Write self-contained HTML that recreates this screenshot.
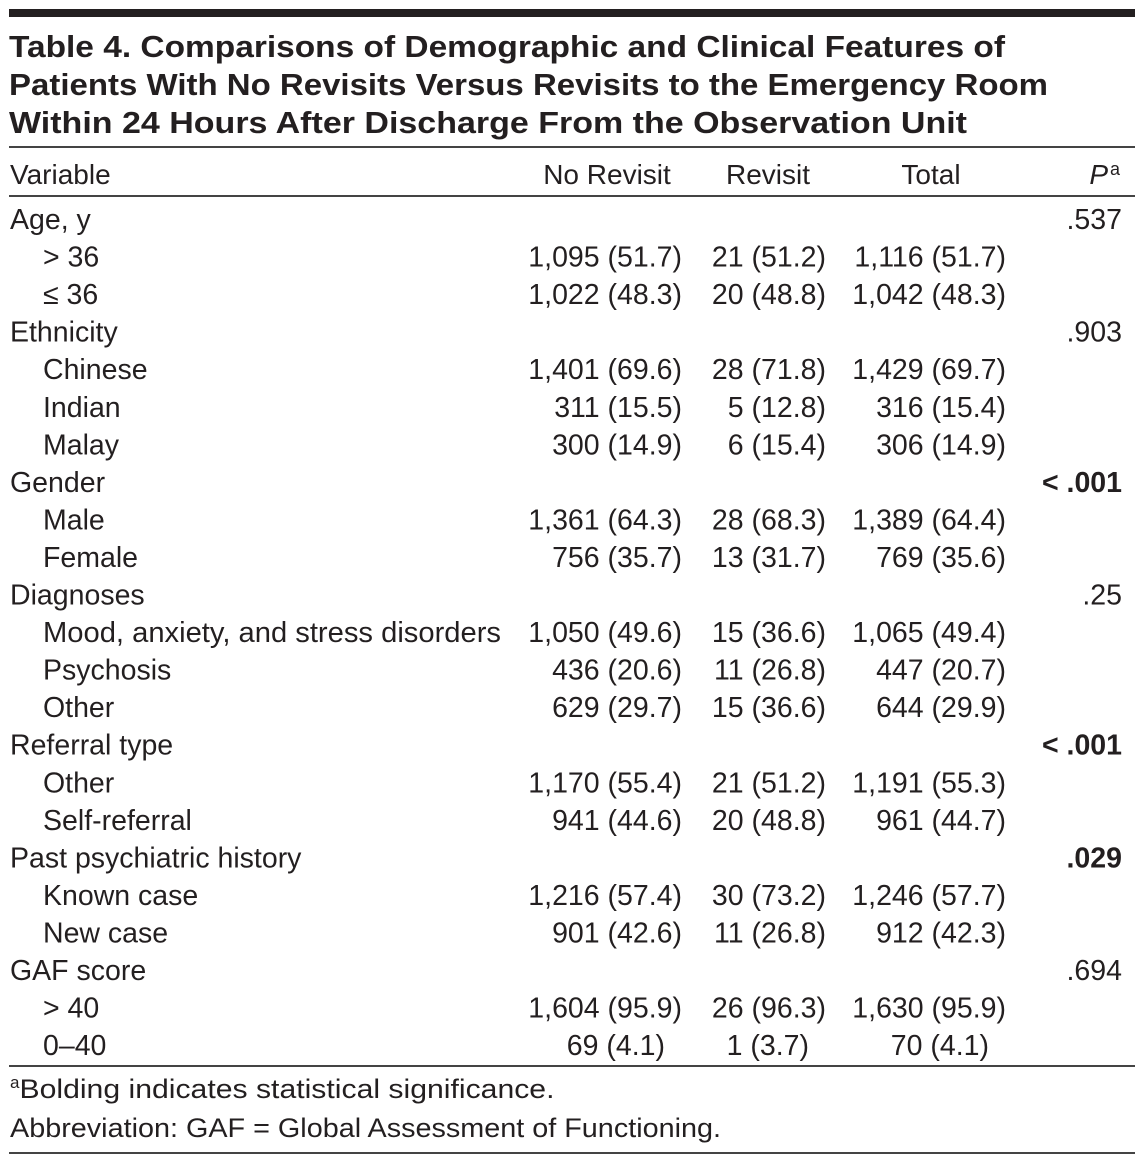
<!DOCTYPE html>
<html><head><meta charset="utf-8">
<style>
html,body{margin:0;padding:0;background:#fff;}
svg{display:block;font-family:"Liberation Sans",Arial,sans-serif;fill:#231f20;}
</style></head>
<body>
<svg id="t" width="1145" height="1163" viewBox="0 0 1145 1163">
<rect x="9" y="9" width="1126" height="8" fill="#231f20"/>
<g font-weight="bold" font-size="31">
<text x="9" y="57" textLength="996" lengthAdjust="spacingAndGlyphs">Table 4. Comparisons of Demographic and Clinical Features of</text>
<text x="9" y="95" textLength="1039" lengthAdjust="spacingAndGlyphs">Patients With No Revisits Versus Revisits to the Emergency Room</text>
<text x="9" y="133" textLength="958" lengthAdjust="spacingAndGlyphs">Within 24 Hours After Discharge From the Observation Unit</text>
</g>
<rect x="9" y="146" width="1126" height="2" fill="#444"/>
<g font-size="28">
<text x="607" y="184" text-anchor="middle">No Revisit</text>
<text x="10" y="184">Variable</text>
<text x="768" y="184" text-anchor="middle">Revisit</text>
<text x="931" y="184" text-anchor="middle">Total</text>
<text x="1108" y="184" text-anchor="end" font-style="italic">P</text>
<text x="1110" y="175" font-size="18">a</text>
</g>
<rect x="9" y="195" width="1126" height="2" fill="#444"/>
<g id="body" font-size="28.5"></g>
<rect x="9" y="1065" width="1126" height="2" fill="#444"/>
<g font-size="27">
<text x="10" y="1098"><tspan font-size="17" dy="-10">a</tspan><tspan dy="10" textLength="535" lengthAdjust="spacingAndGlyphs">Bolding indicates statistical significance.</tspan></text>
<text x="10" y="1137" textLength="711" lengthAdjust="spacingAndGlyphs">Abbreviation: GAF = Global Assessment of Functioning.</text>
</g>
<rect x="9" y="1152" width="1126" height="2" fill="#444"/>
</svg>
<script>
const labels=["Age, y","> 36","≤ 36","Ethnicity","Chinese","Indian","Malay","Gender","Male","Female","Diagnoses","Mood, anxiety, and stress disorders","Psychosis","Other","Referral type","Other","Self-referral","Past psychiatric history","Known case","New case","GAF score","> 40","0–40"];
const indent=[0,1,1,0,1,1,1,0,1,1,0,1,1,1,0,1,1,0,1,1,0,1,1];
const noRevisit=["","1,095 (51.7)","1,022 (48.3)","","1,401 (69.6)","311 (15.5)","300 (14.9)","","1,361 (64.3)","756 (35.7)","","1,050 (49.6)","436 (20.6)","629 (29.7)","","1,170 (55.4)","941 (44.6)","","1,216 (57.4)","901 (42.6)","","1,604 (95.9)","69 (4.1)"];
const revisit=["","21 (51.2)","20 (48.8)","","28 (71.8)","5 (12.8)","6 (15.4)","","28 (68.3)","13 (31.7)","","15 (36.6)","11 (26.8)","15 (36.6)","","21 (51.2)","20 (48.8)","","30 (73.2)","11 (26.8)","","26 (96.3)","1 (3.7)"];
const total=["","1,116 (51.7)","1,042 (48.3)","","1,429 (69.7)","316 (15.4)","306 (14.9)","","1,389 (64.4)","769 (35.6)","","1,065 (49.4)","447 (20.7)","644 (29.9)","","1,191 (55.3)","961 (44.7)","","1,246 (57.7)","912 (42.3)","","1,630 (95.9)","70 (4.1)"];
const pvals=[".537","","",".903","","","","<.001","","",".25","","","","<.001","","",".029","","",".694","",""];
const bold=[0,0,0,0,0,0,0,1,0,0,0,0,0,0,1,0,0,1,0,0,0,0,0];
const NS="http://www.w3.org/2000/svg",body=document.getElementById('body');
function mk(x,y,s,anchor,name){const t=document.createElementNS(NS,'text');t.setAttribute('x',x);t.setAttribute('y',y);if(anchor)t.setAttribute('text-anchor',anchor);t.textContent=s;


body.appendChild(t);return t;}
function adj(s){return /\(\d\.\d\)/.test(s)?17:0;}
labels.forEach((l,i)=>{const y=229+i*37.55;
const lab=mk(indent[i]?43:10,y,l,null,'row-label');
if(i===11){lab.setAttribute('textLength','458');lab.setAttribute('lengthAdjust','spacingAndGlyphs');}
if(noRevisit[i])mk(682-adj(noRevisit[i]),y,noRevisit[i],'end','no-revisit-cell');
if(revisit[i])mk(826-adj(revisit[i]),y,revisit[i],'end','revisit-cell');
if(total[i])mk(1006-adj(total[i]),y,total[i],'end','total-cell');
if(pvals[i]){const t=mk(1122,y,pvals[i].replace('<','< '),'end','p-value-cell');if(bold[i])t.setAttribute('font-weight','bold');}
});
</script>
</body></html>
